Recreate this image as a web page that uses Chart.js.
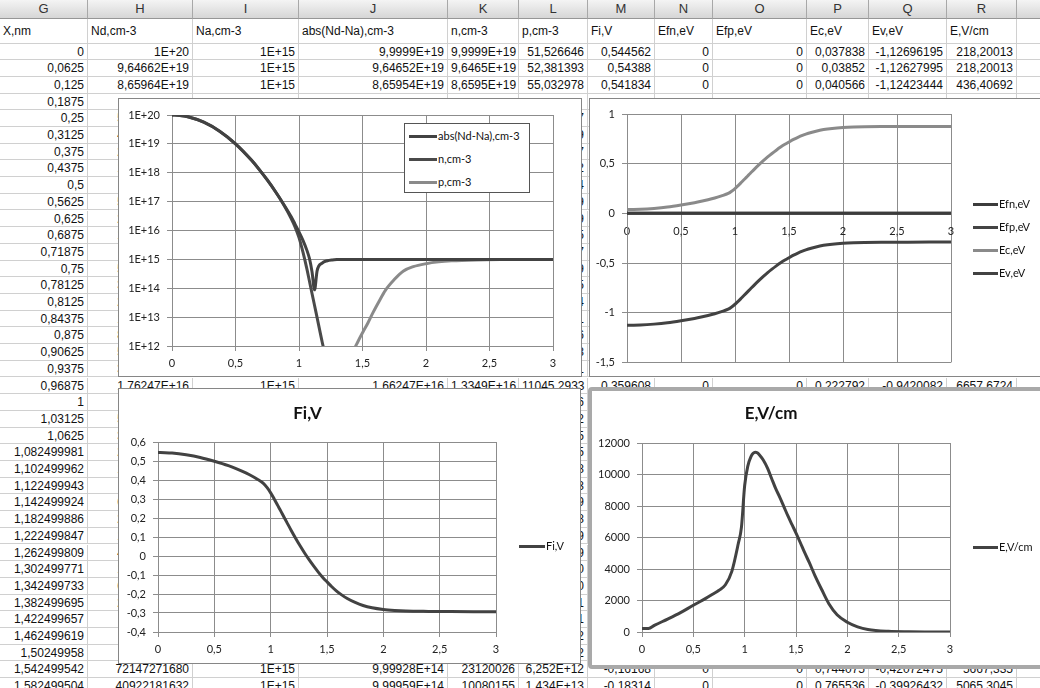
<!DOCTYPE html>
<html>
<head>
<meta charset="utf-8">
<script src="https://cdn.jsdelivr.net/npm/chart.js@4.4.0/dist/chart.umd.min.js"></script>
<style>
  html, body { margin: 0; padding: 0; }
  body { width: 1040px; height: 688px; overflow: hidden; position: relative; background: #fff; font-family: "Liberation Sans", Arial, sans-serif; }
  .cell { position: absolute; font-size: 12px; color: #111; white-space: nowrap; overflow: hidden; box-sizing: border-box; border-right: 1px solid #d0d0d0; border-bottom: 1px solid #d0d0d0; padding: 0 3px; }
  .num { text-align: right; }
  .hdr { position: absolute; top: 0; height: 19px; line-height: 18px; background: linear-gradient(#f4f4f4, #d6d6d6); border-right: 1px solid #a8a8a8; border-bottom: 1px solid #969696; box-sizing: border-box; text-align: center; font-size: 13px; color: #333; }
  .chart { position: absolute; background: #fff; border: 1px solid #868686; }
  .chart canvas { display: block; }
  .sel { border: 4px solid #a9a9a9; border-radius: 4px; }
  .lg-line { position: absolute; height: 3px; }
  .lg-text { position: absolute; font-family: Lato, sans-serif; font-size: 11px; color: #111; white-space: nowrap; line-height: 14px; }
  .lg-box { position: absolute; border: 1px solid #555; background: #fff; box-sizing: border-box; }
</style>
</head>
<body>

<div class="chart" style="left:118px; top:98px;"><canvas id="graficoConc" width="462" height="277"></canvas></div>
<div class="chart" style="left:589px; top:98px;"><canvas id="graficoBandas" width="455" height="277"></canvas></div>
<div class="chart" style="left:118px; top:388px;"><canvas id="graficoFi" width="461" height="274"></canvas></div>
<div class="chart sel" style="left:588px; top:387px;"><canvas id="graficoE" width="453" height="274"></canvas></div>

<script>
// X grid (X,nm) shared by all charts
var xValues = [0, 0.0625, 0.125, 0.25, 0.375, 0.5, 0.625, 0.6875, 0.75, 0.8125,
  0.875, 0.9375, 0.96875, 1, 1.03125, 1.0625, 1.0825, 1.1025, 1.1225, 1.1425,
  1.1825, 1.2225, 1.2625, 1.3025, 1.3425, 1.3825, 1.4225, 1.4625, 1.5025, 1.5425,
  1.5825, 1.63, 1.68, 1.75, 1.82, 1.9, 2, 2.1, 2.2, 2.4, 2.6, 2.8, 3];

// Concentrations, cm-3
var absNdNa = [9.9999e19, 9.64652e19, 8.65954e19, 5.6233e19, 2.7384e19, 9.9999e18, 2.7384e18, 1.2855e18, 5.6233e17, 2.2866e17,
  8.6595e16, 3.0493e16, 1.66247e16, 9.0e15, 4.57e15, 2.05e15, 1.054e15, 3.74e14, 8.8e13, 3.99e14,
  7.45e14, 8.95e14, 9.58e14, 9.84e14, 9.94e14, 9.98e14, 9.992e14, 9.997e14, 9.999e14, 9.99928e14,
  9.99959e14, 1e15, 1e15, 1e15, 1e15, 1e15, 1e15, 1e15, 1e15, 1e15, 1e15, 1e15, 1e15];
var nConc = [9.9999e19, 9.6465e19, 8.6595e19, 5.6233e19, 2.7384e19, 9.9999e18, 2.7384e18, 1.2855e18, 5.62e17, 2.28e17,
  8.45e16, 2.66e16, 1.3349e16, 5.66e15, 1.77e15, 4.58e14, 1.74e14, 6.6e13, 2.53e13, 9.6e12,
  1.38e12, 2.4e11, 4.2e10, 9.1e9, 2.3e9, 7.3e8, 2.5e8, 1.06e8, 4.9e7, 2.312e7,
  1.008e7, 4.8e6, 2.2e6, 9.6e5, 4.8e5, 2.9e5, 1.9e5, 1.5e5, 1.3e5, 1.2e5, 1.16e5, 1.15e5, 1.15e5];
var pConc = [51.53, 52.38, 55.03, 62, 80, 112, 173, 223, 302, 425,
  663, 2904, 11045, 26105, 82734, 321870, 842561, 2.195e6, 5.81e6, 1.503e7,
  1.04e8, 6.0e8, 3.4e9, 1.6e10, 6.23e10, 1.99e11, 5.88e11, 1.379e12, 2.991e12, 6.252e12,
  1.434e13, 3.5e13, 8.5e13, 2.0e14, 3.9e14, 5.6e14, 7.1e14, 8.2e14, 8.9e14, 9.6e14, 9.9e14, 1e15, 1e15];

// Energies, eV
var efn = [0, 0, 0, 0, 0, 0, 0, 0, 0, 0, 0, 0, 0, 0, 0, 0, 0, 0, 0, 0, 0, 0,
  0, 0, 0, 0, 0, 0, 0, 0, 0, 0, 0, 0, 0, 0, 0, 0, 0, 0, 0, 0, 0];
var efp = [0, 0, 0, 0, 0, 0, 0, 0, 0, 0, 0, 0, 0, 0, 0, 0, 0, 0, 0, 0, 0, 0,
  0, 0, 0, 0, 0, 0, 0, 0, 0, 0, 0, 0, 0, 0, 0, 0, 0, 0, 0, 0, 0];
var ec = [0.037838, 0.03852, 0.040566, 0.050, 0.064, 0.084, 0.107, 0.121, 0.137, 0.155,
  0.176, 0.201, 0.222792, 0.250, 0.282, 0.316, 0.338, 0.360, 0.382, 0.404,
  0.448, 0.490, 0.530, 0.568, 0.603, 0.636, 0.667, 0.695, 0.720, 0.744075,
  0.765536, 0.787, 0.806, 0.827, 0.843, 0.855, 0.864, 0.869, 0.872, 0.874, 0.875, 0.8753, 0.8753];
var ev = [-1.12696195, -1.12627995, -1.12423444, -1.1148, -1.1008, -1.0808, -1.0578, -1.0438, -1.0278, -1.0098,
  -0.9888, -0.9638, -0.9420082, -0.9148, -0.8828, -0.8488, -0.8268, -0.8048, -0.7828, -0.7608,
  -0.7168, -0.6748, -0.6348, -0.5968, -0.5618, -0.5288, -0.4978, -0.4698, -0.4448, -0.42072475,
  -0.39926432, -0.3778, -0.3588, -0.3378, -0.3218, -0.3098, -0.3008, -0.2958, -0.2928, -0.2908, -0.2898, -0.2895, -0.2895];

// Potential, V
var fi = [0.544562, 0.54388, 0.541834, 0.5324, 0.5184, 0.4984, 0.4754, 0.4614, 0.4454, 0.4274,
  0.4064, 0.3814, 0.359608, 0.3324, 0.3004, 0.2664, 0.2444, 0.2224, 0.2004, 0.1784,
  0.1344, 0.0924, 0.0524, 0.0144, -0.0206, -0.0536, -0.0846, -0.1126, -0.1376, -0.16168,
  -0.18314, -0.2046, -0.2236, -0.2446, -0.2606, -0.2726, -0.2816, -0.2866, -0.2896, -0.2916, -0.2926, -0.2929, -0.2929];

// Field, V/cm
var eField = [218.20013, 218.20013, 436.40692, 820, 1230, 1700, 2150, 2400, 2650, 3000,
  3850, 5600, 6657.6724, 9300, 10550, 11150, 11350, 11420, 11380, 11250,
  10900, 10400, 9750, 9100, 8550, 7950, 7350, 6800, 6250, 5667.335,
  5065.3045, 4400, 3650, 2700, 1800, 1100, 620, 330, 160, 40, 10, 3, 1];

// Tick values of the log axis
var logTicks = [1e12, 1e13, 1e14, 1e15, 1e16, 1e17, 1e18, 1e19, 1e20];

// Spreadsheet behind the charts
var colEdges = [0, 88, 193, 299, 448, 519, 588, 655, 713, 807, 869, 947, 1017, 1100];
var colLetters = ['G', 'H', 'I', 'J', 'K', 'L', 'M', 'N', 'O', 'P', 'Q', 'R', 'S'];
var headerLabels = ['X,nm', 'Nd,cm-3', 'Na,cm-3', 'abs(Nd-Na),cm-3', 'n,cm-3', 'p,cm-3', 'Fi,V', 'Efn,eV', 'Efp,eV', 'Ec,eV', 'Ev,eV', 'E,V/cm'];
var colG = ['0', '0,0625', '0,125', '0,1875', '0,25', '0,3125', '0,375', '0,4375', '0,5', '0,5625',
  '0,625', '0,6875', '0,71875', '0,75', '0,78125', '0,8125', '0,84375', '0,875', '0,90625', '0,9375',
  '0,96875', '1', '1,03125', '1,0625', '1,082499981', '1,102499962', '1,122499943', '1,142499924', '1,182499886', '1,222499847',
  '1,262499809', '1,302499771', '1,342499733', '1,382499695', '1,422499657', '1,462499619', '1,50249958', '1,542499542', '1,582499504'];
// Row 0,1875 sits under the top edge of the charts, so its H and L cells are left blank
var colH = ['1E+20', '9,64662E+19', '8,65964E+19', '', '5,62341E+19', '4,06569E+19', '2,73842E+19', '1,71573E+19', '1E+19', '5,42165E+18',
  '2,73842E+18', '1,28554E+18', '8,5888E+17', '5,62341E+17', '3,61919E+17', '2,28665E+17', '1,42062E+17', '8,65964E+16', '5,18571E+16', '3,04935E+16',
  '1,76247E+16', '1E+16', '5,57194E+15', '3,04935E+15', '2,05438E+15', '1,37403E+15', '9,12011E+14', '6,01279E+14', '2,55281E+14', '1,05183E+14',
  '4,20773E+13', '1,63618E+13', '6,18043E+12', '2,27145E+12', '8,12654E+11', '2,85493E+11', '1,2137E+11', '72147271680', '40922181632'];
var colL = ['51,526646', '52,381393', '55,032978', '', '63,812457', '70,925189', '80,541267', '93,705342', '112,07614', '137,39429',
  '172,60859', '223,34185', '258,90477', '302,15289', '356,72465', '425,38934', '514,42671', '663,11846', '1096,5278', '2904,1131',
  '11045,2933', '26105,716', '82734,452', '321870,35', '842561,15', '2195467,8', '5812043,3', '15032669', '104187318', '600431929',
  '3,402E+09', '1,601E+10', '6,227E+10', '1,988E+11', '5,884E+11', '1,379E+12', '2,991E+12', '6,252E+12', '1,434E+13'];
// Rows that are not hidden by the charts
var fullRows = [0, 1, 2, 20, 37, 38];
var colI = ['1E+15', '1E+15', '1E+15', '1E+15', '1E+15', '1E+15'];
var colJ = ['9,9999E+19', '9,64652E+19', '8,65954E+19', '1,66247E+16', '9,99928E+14', '9,99959E+14'];
var colK = ['9,9999E+19', '9,6465E+19', '8,6595E+19', '1,3349E+16', '23120026', '10080155'];
var colM = ['0,544562', '0,54388', '0,541834', '0,359608', '-0,16168', '-0,18314'];
var colN = ['0', '0', '0', '0', '0', '0'];
var colO = ['0', '0', '0', '0', '0', '0'];
var colP = ['0,037838', '0,03852', '0,040566', '0,222792', '0,744075', '0,765536'];
var colQ = ['-1,12696195', '-1,12627995', '-1,12423444', '-0,9420082', '-0,42072475', '-0,39926432'];
var colR = ['218,20013', '218,20013', '436,40692', '6657,6724', '5667,335', '5065,3045'];

// Build the sheet cells
var rowH = 16.7;
var firstRowTop = 43.5;
function addCell(col, cellTop, height, text, isNum) {
  var d = document.createElement('div');
  d.className = 'cell' + (isNum ? ' num' : '');
  d.style.left = colEdges[col] + 'px';
  d.style.width = (colEdges[col + 1] - colEdges[col]) + 'px';
  d.style.top = cellTop + 'px';
  d.style.height = height + 'px';
  d.style.lineHeight = height + 'px';
  d.textContent = text || '';
  document.body.insertBefore(d, document.body.firstChild);
}
for (var c = 0; c < colLetters.length; c++) {
  var h = document.createElement('div');
  h.className = 'hdr';
  h.style.left = colEdges[c] + 'px';
  h.style.width = (colEdges[c + 1] - colEdges[c]) + 'px';
  h.textContent = colLetters[c];
  document.body.insertBefore(h, document.body.firstChild);
  addCell(c, 19, firstRowTop - 19, headerLabels[c], false);
}
for (var r = 0; r < colG.length; r++) {
  var rowTop = firstRowTop + rowH * r;
  var k = fullRows.indexOf(r);
  var rowTexts = [colG[r], colH[r], '', '', '', colL[r], '', '', '', '', '', '', ''];
  if (k >= 0) {
    rowTexts = [colG[r], colH[r], colI[k], colJ[k], colK[k], colL[r], colM[k], colN[k], colO[k], colP[k], colQ[k], colR[k], ''];
  }
  for (var c2 = 0; c2 < colLetters.length; c2++) {
    addCell(c2, rowTop, rowH, rowTexts[c2], true);
  }
}

// Chart settings
Chart.defaults.font.family = 'Lato, "Liberation Sans", sans-serif';
Chart.defaults.font.size = 11;
Chart.defaults.color = '#222';
var gridColor = '#8c8c8c';
var darkLine = '#424242';
var lightLine = '#8a8a8a';

function commaLabel(v) { return String(Math.round(v * 10) / 10).replace('.', ','); }

function serie(label, values, color) {
  return {
    label: label,
    data: xValues.map(function (x, i) { return { x: x, y: values[i] }; }),
    borderColor: color,
    backgroundColor: color,
    borderWidth: 3,
    pointRadius: 0,
    pointHoverRadius: 0,
    cubicInterpolationMode: 'monotone',
    fill: false
  };
}

function axisX(height) {
  var a = {
    type: 'linear', min: 0, max: 3,
    ticks: { stepSize: 0.5, padding: 6, maxRotation: 0, autoSkip: false, callback: commaLabel },
    grid: { color: gridColor, tickLength: 5 },
    border: { color: gridColor }
  };
  if (height) a.afterFit = function (s) { s.height = height; };
  return a;
}

function axisY(width, min, max, step, callback) {
  return {
    type: 'linear', min: min, max: max,
    ticks: { stepSize: step, padding: 7, autoSkip: false, callback: callback },
    grid: { color: gridColor, tickLength: 5 },
    border: { color: gridColor },
    afterFit: function (s) { s.width = width; }
  };
}

function baseOptions(padding, scales, title) {
  return {
    responsive: false,
    maintainAspectRatio: false,
    animation: false,
    devicePixelRatio: 1,
    events: [],
    layout: { padding: padding },
    plugins: {
      legend: { display: false },
      tooltip: { enabled: false },
      title: title || { display: false }
    },
    scales: scales
  };
}

function chartTitle(text, top, bottom) {
  return { display: true, text: text, color: '#111', font: { family: 'Lato', size: 17, weight: 'bold' }, padding: { top: top, bottom: bottom } };
}

// Chart 1: concentrations (log axis)
var yLog = {
  type: 'logarithmic', min: 1e12, max: 1e20,
  afterBuildTicks: function (s) { s.ticks = logTicks.map(function (v) { return { value: v }; }); },
  ticks: { padding: 7, autoSkip: false, callback: function (v) { return '1E+' + Math.round(Math.log10(v)); } },
  grid: { color: gridColor, tickLength: 5 },
  border: { color: gridColor },
  afterFit: function (s) { s.width = 53; }
};
new Chart(document.getElementById('graficoConc').getContext('2d'), {
  type: 'line',
  data: { datasets: [serie('abs(Nd-Na),cm-3', absNdNa, darkLine), serie('n,cm-3', nConc, '#4a4a4a'), serie('p,cm-3', pConc, lightLine)] },
  options: baseOptions({ left: 0, top: 16, right: 28, bottom: 0 }, { x: axisX(30), y: yLog })
});

// Chart 2: band diagram, x axis crossing at 0
var xBand = axisX(0);
xBand.position = { y: 0 };
new Chart(document.getElementById('graficoBandas').getContext('2d'), {
  type: 'line',
  data: { datasets: [serie('Efn,eV', efn, '#3c3c3c'), serie('Efp,eV', efp, '#444444'), serie('Ec,eV', ec, lightLine), serie('Ev,eV', ev, darkLine)] },
  options: baseOptions({ left: 0, top: 15, right: 94, bottom: 13 }, { x: xBand, y: axisY(37, -1.5, 1, 0.5, commaLabel) })
});

// Chart 3: Fi,V
new Chart(document.getElementById('graficoFi').getContext('2d'), {
  type: 'line',
  data: { datasets: [serie('Fi,V', fi, darkLine)] },
  options: baseOptions({ left: 0, top: 0, right: 84, bottom: 0 }, { x: axisX(31), y: axisY(39, -0.4, 0.6, 0.1, commaLabel) }, chartTitle('Fi,V', 14, 18.6))
});

// Chart 4: E,V/cm
new Chart(document.getElementById('graficoE').getContext('2d'), {
  type: 'line',
  data: { datasets: [serie('E,V/cm', eField, darkLine)] },
  options: baseOptions({ left: 0, top: 0, right: 95, bottom: 0 }, { x: axisX(33), y: axisY(50, 0, 12000, 2000, function (v) { return String(v); }) }, chartTitle('E,V/cm', 12, 19.6))
});

// Legends
var legendItems = [
  { x: 409, y: 136, w: 28, text: 'abs(Nd-Na),cm-3', color: darkLine },
  { x: 409, y: 159, w: 28, text: 'n,cm-3', color: '#4a4a4a' },
  { x: 409, y: 182, w: 28, text: 'p,cm-3', color: lightLine },
  { x: 973, y: 204, w: 25, text: 'Efn,eV', color: '#3c3c3c' },
  { x: 973, y: 227, w: 25, text: 'Efp,eV', color: '#444444' },
  { x: 973, y: 250, w: 25, text: 'Ec,eV', color: lightLine },
  { x: 973, y: 273, w: 25, text: 'Ev,eV', color: darkLine },
  { x: 519, y: 546, w: 26, text: 'Fi,V', color: darkLine },
  { x: 973, y: 547, w: 25, text: 'E,V/cm', color: darkLine }
];
var box = document.createElement('div');
box.className = 'lg-box';
box.style.cssText = 'left:404px; top:123px; width:126px; height:70px;';
document.body.appendChild(box);
legendItems.forEach(function (it) {
  var l = document.createElement('div');
  l.className = 'lg-line';
  l.style.left = it.x + 'px';
  l.style.top = (it.y - 1.5) + 'px';
  l.style.width = it.w + 'px';
  l.style.background = it.color;
  document.body.appendChild(l);
  var t = document.createElement('div');
  t.className = 'lg-text';
  t.style.left = (it.x + it.w + 1) + 'px';
  t.style.top = (it.y - 7) + 'px';
  t.textContent = it.text;
  document.body.appendChild(t);
});
</script>
</body>
</html>
